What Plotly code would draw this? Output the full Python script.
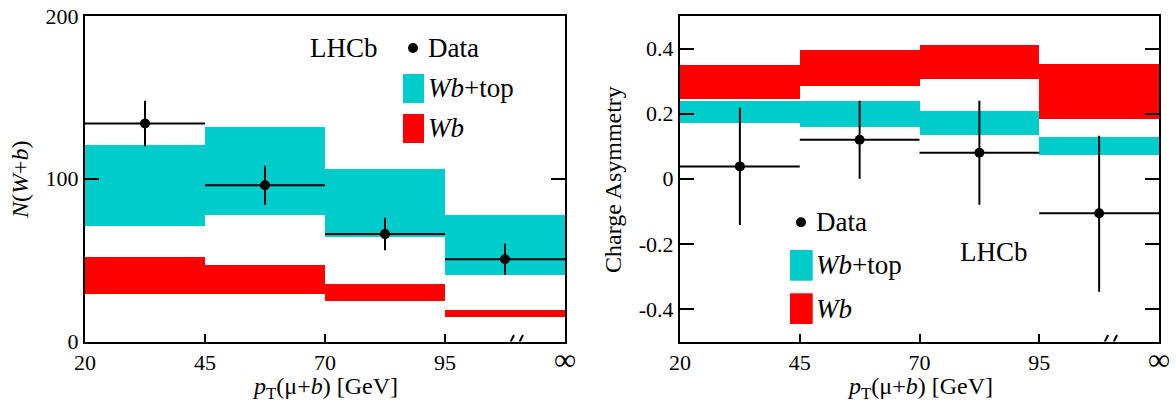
import plotly.graph_objects as go

# ---------------- data ----------------
bin_labels = ["20", "45", "70", "95", '<span style="font-size:31px">∞</span>']
bin_centers = [0.5, 1.5, 2.5, 3.5]
bin_halfwidth = [0.5, 0.5, 0.5, 0.5]

# left panel: N(W+b)
data_N = [134, 96, 66, 50.5]
data_N_err_up = [14, 12, 10, 9.5]
data_N_err_dn = [14, 12, 10, 9.5]
wbtop_N_lo = [71, 78, 64, 41]
wbtop_N_hi = [121, 132, 106, 77.5]
wb_N_lo = [29, 29, 25, 15]
wb_N_hi = [52, 47, 35.5, 19.5]

# right panel: charge asymmetry
data_A = [0.038, 0.12, 0.08, -0.106]
data_A_err_up = [0.18, 0.12, 0.16, 0.238]
data_A_err_dn = [0.18, 0.12, 0.16, 0.241]
wbtop_A_lo = [0.17, 0.16, 0.135, 0.072]
wbtop_A_hi = [0.24, 0.238, 0.209, 0.129]
wb_A_lo = [0.246, 0.284, 0.305, 0.185]
wb_A_hi = [0.351, 0.397, 0.41, 0.354]

left_ytick_vals = [0, 100, 200]
left_ytick_text = ["0", "100", "200"]
right_ytick_vals = [-0.4, -0.2, 0, 0.2, 0.4]
right_ytick_text = ["-0.4", "-0.2", "0", "0.2", "0.4"]

CYAN = "#00CCCC"
RED = "#FF0000"
FONT = "Liberation Serif"
W, H = 1176, 404

fig = go.Figure()


def add_panel(xa, ya, lo1, hi1, lo2, hi2, d, eu, ed):
    fig.add_trace(go.Bar(x=bin_centers, y=[h - l for h, l in zip(hi1, lo1)], base=lo1,
                         width=1, marker=dict(color=CYAN, line=dict(width=0)),
                         xaxis=xa, yaxis=ya, showlegend=False))
    fig.add_trace(go.Bar(x=bin_centers, y=[h - l for h, l in zip(hi2, lo2)], base=lo2,
                         width=1, marker=dict(color=RED, line=dict(width=0)),
                         xaxis=xa, yaxis=ya, showlegend=False))
    fig.add_trace(go.Scatter(x=bin_centers, y=d, mode="markers",
                             marker=dict(color="black", size=10),
                             error_x=dict(type="data", array=bin_halfwidth, color="black",
                                          thickness=2, width=0),
                             error_y=dict(type="data", symmetric=False, array=eu, arrayminus=ed,
                                          color="black", thickness=2, width=0),
                             xaxis=xa, yaxis=ya, showlegend=False))


add_panel("x", "y", wbtop_N_lo, wbtop_N_hi, wb_N_lo, wb_N_hi, data_N, data_N_err_up, data_N_err_dn)
add_panel("x2", "y2", wbtop_A_lo, wbtop_A_hi, wb_A_lo, wb_A_hi, data_A, data_A_err_up, data_A_err_dn)

ydom = [(H - 341.5) / H, (H - 16) / H]
xdom1 = [85 / W, 565 / W]
xdom2 = [680 / W, 1159 / W]

xcommon = dict(range=[0, 4], tickvals=[0, 1, 2, 3, 4], ticktext=bin_labels,
               ticks="inside", ticklen=8, tickwidth=2, tickcolor="black",
               showline=True, linewidth=2, linecolor="black", mirror=True,
               showgrid=False, zeroline=False, automargin=False,
               tickfont=dict(family=FONT, size=22, color="black"))
ycommon = dict(ticks="inside", ticklen=14, tickwidth=2, tickcolor="black",
               showline=True, linewidth=2, linecolor="black", mirror="ticks",
               showgrid=False, zeroline=False, automargin=False,
               tickfont=dict(family=FONT, size=22, color="black"))

fig.update_layout(
    width=W, height=H,
    margin=dict(l=0, r=0, t=0, b=0),
    paper_bgcolor="white", plot_bgcolor="white",
    barmode="overlay", bargap=0,
    xaxis=dict(domain=xdom1, anchor="y", **xcommon),
    yaxis=dict(domain=ydom, anchor="x", range=[0, 200], tickvals=left_ytick_vals,
               ticktext=left_ytick_text, **ycommon),
    xaxis2=dict(domain=xdom2, anchor="y2", **xcommon),
    yaxis2=dict(domain=ydom, anchor="x2", range=[-0.5, 0.5], tickvals=right_ytick_vals,
                ticktext=right_ytick_text, **ycommon),
    font=dict(family=FONT, color="black"),
)

shapes = []
annotations = []

# axis break marks "//" on the bottom axes
for xr, yr, ybase in (("x", "y", 0), ("x2", "y2", -0.5)):
    shapes.append(dict(type="rect", xref=xr, yref=yr, x0=3.505, x1=3.685,
                       ysizemode="pixel", yanchor=ybase, y0=-3, y1=3,
                       fillcolor="white", line=dict(width=0), layer="above"))
    for xa, xb in ((3.515, 3.575), (3.59, 3.65)):
        shapes.append(dict(type="line", xref=xr, yref=yr, x0=xa, x1=xb,
                           ysizemode="pixel", yanchor=ybase, y0=-8, y1=6.5,
                           line=dict(color="black", width=2), layer="above"))


def px(x):
    return x / W


def py(y):
    return (H - y) / H


def legend(dot, rect1, rect2, text_x, t_data_y, t1_y, t2_y):
    shapes.append(dict(type="circle", xref="paper", yref="paper",
                       xsizemode="pixel", ysizemode="pixel",
                       xanchor=px(dot[0]), yanchor=py(dot[1]),
                       x0=-5, x1=5, y0=-5, y1=5, fillcolor="black",
                       line=dict(width=0)))
    for r, c in ((rect1, CYAN), (rect2, RED)):
        shapes.append(dict(type="rect", xref="paper", yref="paper",
                           x0=px(r[0]), x1=px(r[1]), y0=py(r[3]), y1=py(r[2]),
                           fillcolor=c, line=dict(width=0)))
    for txt, yy in (("Data", t_data_y), ("<i>Wb</i>+top", t1_y), ("<i>Wb</i>", t2_y)):
        annotations.append(dict(text=txt, xref="paper", yref="paper", x=px(text_x), y=py(yy),
                                xanchor="left", yanchor="middle", showarrow=False,
                                font=dict(family=FONT, size=27, color="black")))


legend((413, 48), (403, 424, 74, 103), (403, 424, 114, 143), 426, 48, 88.5, 128.5)
legend((801, 222.3), (790, 812.7, 250, 280.7), (790, 812.7, 293.3, 324), 814, 222.3, 265.3, 308.7)

for (xx, yy) in ((308, 48), (958, 252)):
    annotations.append(dict(text="LHCb", xref="paper", yref="paper", x=px(xx), y=py(yy),
                            xanchor="left", yanchor="middle", showarrow=False,
                            font=dict(family=FONT, size=27, color="black")))

# axis titles
for xx in (325, 919.5):
    annotations.append(dict(text="<i>p</i><sub>T</sub>(μ+<i>b</i>) [GeV]", xref="paper", yref="paper",
                            x=px(xx), y=py(388), xanchor="center", yanchor="middle",
                            showarrow=False, font=dict(family=FONT, size=24, color="black")))
annotations.append(dict(text="<i>N</i>(<i>W</i>+<i>b</i>)", xref="paper", yref="paper",
                        x=px(20), y=py(180), xanchor="center", yanchor="middle", textangle=-90,
                        showarrow=False, font=dict(family=FONT, size=24, color="black")))
annotations.append(dict(text="Charge Asymmetry", xref="paper", yref="paper",
                        x=px(613), y=py(180), xanchor="center", yanchor="middle", textangle=-90,
                        showarrow=False, font=dict(family=FONT, size=24, color="black")))

fig.update_layout(shapes=shapes, annotations=annotations)
fig.write_html("out.html", config={"displayModeBar": False},
               post_script="document.body.style.margin='0';document.body.style.overflow='hidden';")
